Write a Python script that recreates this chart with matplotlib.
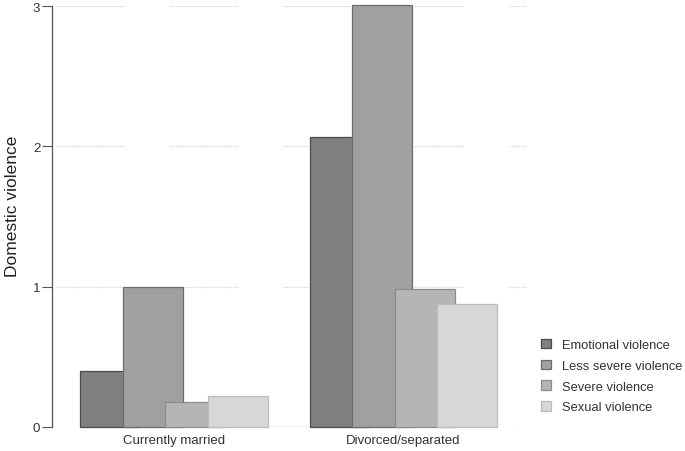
import numpy as np
import matplotlib
matplotlib.use("Agg")
import matplotlib.pyplot as plt

plt.rcParams['font.family'] = ['Liberation Sans', 'DejaVu Sans']
plt.rcParams['lines.scale_dashes'] = False

# data
groups = ['Currently married', 'Divorced/separated']
series = ['Emotional violence', 'Less severe violence', 'Severe violence', 'Sexual violence']
values = {
    'Emotional violence': [0.40, 2.07],
    'Less severe violence': [1.00, 3.01],
    'Severe violence': [0.18, 0.98],
    'Sexual violence': [0.22, 0.88],
}
fills = ['#808080', '#a0a0a0', '#b5b5b5', '#d7d7d7']
edges = ['#4a4a4a', '#6c6c6c', '#8c8c8c', '#bcbcbc']

fig = plt.figure(figsize=(6.85, 4.52), dpi=100)
ax = fig.add_axes([52 / 685, 24 / 452, 473.5 / 685, 421 / 452])

x = np.arange(len(groups))
width = 0.2614
step = 0.1856

# dotted gridlines broken into segments (stata look)
seg_start, seg_period, seg_len = 0.0106, 0.2386, 0.1436
for yv in [0, 1, 2, 3]:
    s0 = seg_start
    while s0 < 1:
        ax.axhline(yv, xmin=s0, xmax=min(s0 + seg_len, 1), color='#bdbdbd',
                   lw=0.8, linestyle=(0, (0.72, 1.44)), zorder=0)
        s0 += seg_period

for i, s in enumerate(series):
    ax.bar(x + (i - 1.5) * step, values[s], width, color=fills[i],
           edgecolor=edges[i], linewidth=0.9, label=s, zorder=2 + i,
           clip_on=False)

# base line between the two groups
x0 = x[0] + 1.5 * step + width / 2
x1 = x[1] - 1.5 * step - width / 2
ax.plot([x0, x1], [0, 0], color='#9a9a9a', lw=0.9, zorder=1)

ax.set_xlim(-0.5316, 1.5316)
ax.set_ylim(0, 3)
ax.set_yticks([0, 1, 2, 3])
ax.set_yticklabels(['0', '1', '2', '3'])
ax.set_xticks(x)
ax.set_xticklabels(groups)

for sp in ['top', 'right', 'bottom']:
    ax.spines[sp].set_visible(False)
ax.spines['left'].set_color('#555555')
ax.spines['left'].set_linewidth(0.9)

ax.tick_params(axis='y', length=7, width=0.8, color='#555555', pad=1.5,
               labelsize=9.5, labelcolor='#333333')
ax.tick_params(axis='x', length=0, pad=5, labelsize=9.5, labelcolor='#333333')

ax.set_ylabel('Domestic violence', fontsize=12.5, color='#222222')
ax.yaxis.set_label_coords(-0.067, 0.527)

fig.legend(loc='upper left', bbox_to_anchor=(541 / 685, (452 - 340) / 452),
           frameon=False, fontsize=9.3, handlelength=0.74, handleheight=0.74,
           handletextpad=0.85, labelspacing=0.66, borderpad=0, borderaxespad=0,
           labelcolor='#333333')

fig.savefig('out.png', dpi=100)
